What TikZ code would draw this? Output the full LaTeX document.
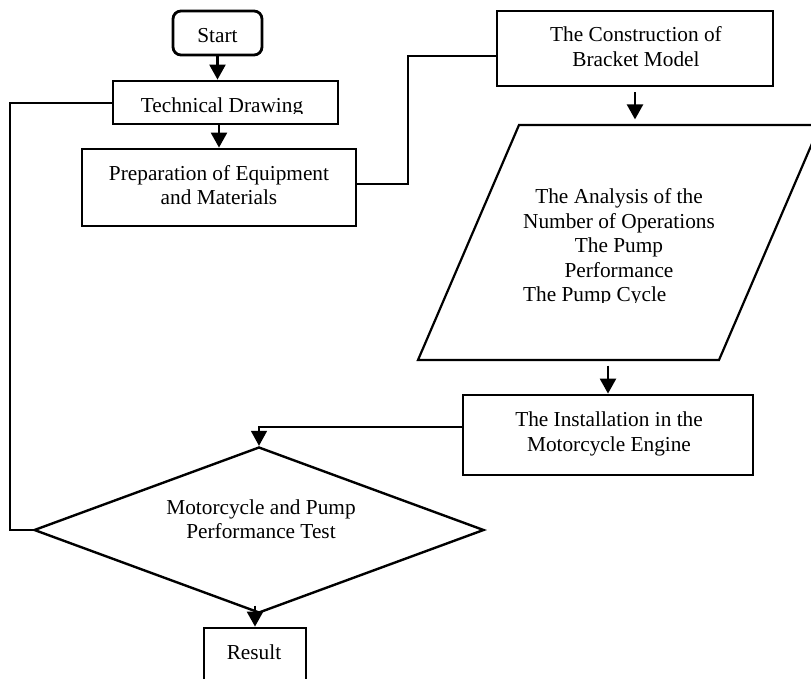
\documentclass[tikz,border=0pt]{standalone}
\usepackage{fontspec}
\setmainfont{Liberation Serif}
\usetikzlibrary{shapes.geometric,arrows.meta}
\begin{document}
\begin{tikzpicture}[x=1pt,y=-1pt,
  box/.style={draw,line width=2.8pt,inner sep=0pt},
  lbl/.style={font=\fontsize{21.3}{24.4}\selectfont,inner sep=0pt,align=center},
  link/.style={line width=1.7pt},
  tip/.style={-{Triangle[length=15pt,width=16pt]}},
  arr/.style={line width=2.4pt,tip}]
\useasboundingbox (0,0) rectangle (811,679);
% shapes
\node[box,rounded corners=8pt,minimum width=89,minimum height=44] (start) at (217.5,33) {};
\node[box,minimum width=225,minimum height=43] (td) at (225.5,102.5) {};
\node[box,minimum width=274,minimum height=77] (prep) at (219,187.5) {};
\node[box,minimum width=276,minimum height=75] (constr) at (635,48.5) {};
\coordinate (pa) at (519,125);
\coordinate (pb) at (820,125);
\coordinate (pc) at (719,360);
\coordinate (pd) at (418,360);
\draw[line width=2.2pt] (pa) -- (pb) -- (pc) -- (pd) -- cycle;
\node[box,minimum width=290,minimum height=80] (inst) at (608,435) {};
\node[draw,diamond,line width=2.4pt,inner sep=0pt,minimum width=450,minimum height=166] (test) at (259,530) {};
\node[box,minimum width=102,minimum height=80] (result) at (255,668) {};
% texts
\node[lbl,anchor=base] (tstart) at (217.5,43) {Start};
\begin{scope}
\clip (113,81) rectangle (338,114);
\node[lbl,anchor=base] (ttd) at (222,113) {Technical Drawing};
\end{scope}
\node[lbl] (tprep) at (219,185.2) {Preparation of Equipment\\and Materials};
\node[lbl] (tconstr) at (636,46.7) {The Construction of\\Bracket Model};
\node[lbl] (tpara) at (619,233.2) {The Analysis of the\\Number of Operations\\The Pump\\Performance};
\begin{scope}
\clip (500,280) rectangle (700,302);
\node[lbl,anchor=base west] (tcycle) at (523,301) {The Pump Cycle};
\end{scope}
\node[lbl] (tinst) at (609,434) {The Installation in the\\Motorcycle Engine};
\node[lbl] (ttest) at (261,519.2) {Motorcycle and Pump\\Performance Test};
\node[lbl,anchor=base] (tresult) at (254,659) {Result};
% connectors
\draw[arr] (start.south) -- (start.south |- td.north);
\draw[arr] (prep.north |- td.south) -- (prep.north);
\coordinate (j1) at (408,184);
\coordinate (j2) at (408,56);
\draw[link] (prep.east |- j1) -- (j1) -- (j2) -- (j2 -| constr.west);
\draw[arr] ([yshift=-5pt]constr.south) -- ++(0,27);
\draw[arr] ([yshift=28pt]inst.north) -- (inst.north);
\coordinate (k) at (259,427);
\draw[link,tip] (inst.west |- k) -- (k) -- (test.north);
\coordinate (l) at (10,103);
\draw[link] (td.west |- l) -- (l) |- (test.west);
\draw[arr] ([yshift=21pt]result.north) -- (result.north);
\end{tikzpicture}
\end{document}
